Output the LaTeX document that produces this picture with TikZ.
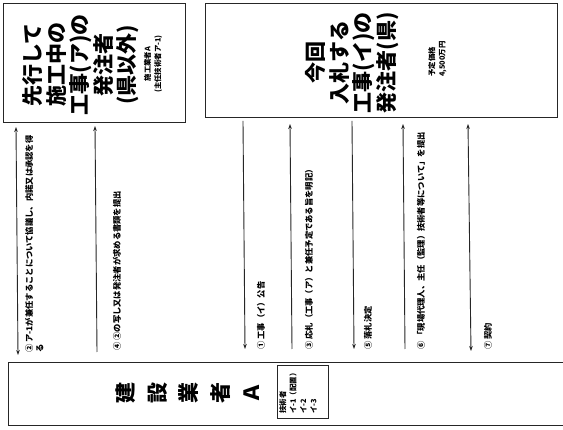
\documentclass[tikz,border=0pt]{standalone}
\usepackage{fontspec}
\setmainfont{Noto Sans CJK JP}
\usetikzlibrary{arrows.meta}
\begin{document}
\begin{tikzpicture}[x=1pt,y=-1pt,
  box/.style={draw=black!85,line width=1.1pt,inner sep=0pt},
  conn/.style={draw=black!85,line width=0.9pt},
  uptip/.style={{Stealth[length=5pt,width=3.6pt]}-},
  downtip/.style={-{Stealth[length=5pt,width=3.6pt]}},
  bothtip/.style={{Stealth[length=5pt,width=3.6pt]}-{Stealth[length=5pt,width=3.6pt]}},
  lbl/.style={rotate=90,anchor=west,align=left,font=\fontsize{8.3}{10.5}\selectfont\bfseries,inner sep=0pt},
  big/.style={rotate=90,align=center,font=\fontsize{21}{23.5}\selectfont\bfseries,inner sep=0pt},
  small/.style={rotate=90,align=left,font=\fontsize{7.4}{10.3}\selectfont\bfseries,inner sep=0pt}]
\useasboundingbox (0,0) rectangle (563,430);
\clip (0,0) rectangle (563,430);
\fill[white] (0,0) rectangle (563,430);

% boxes
\node[box,anchor=north west,minimum width=182pt,minimum height=119pt] (L) at (3,3) {};
\node[box,anchor=north west,minimum width=352pt,minimum height=114pt] (R) at (205,3) {};
\node[box,anchor=north west,minimum width=570pt,minimum height=63pt] (B) at (8,362) {};

% texts in boxes
\node[big] (LT) at (81,65) {先行して\\施工中の\\工事(ア)の\\発注者\\(県以外)};
\node[small,align=center] (LS) at (153,64) {施工業者A\\(主任技術者ア-1)};
\node[big] (RT) at (352,63) {今回\\入札する\\工事(イ)の\\発注者(県)};
\node[small,anchor=north west] (RP) at (428,77) {予定価格\\4,500万円};
\node[rotate=90,align=center,font=\fontsize{21}{31.5}\selectfont\bfseries,inner sep=0pt] (BT) at (188,393) {建\\設\\業\\者\\Ａ};
\node[draw=black!85,line width=0.8pt,anchor=north west,minimum width=51pt,minimum height=53pt,inner sep=0pt] (TB) at (277,365) {};
\node[small,anchor=north west] (TT) at (279,414) {技術者\\イ-1（配置）\\イ-2\\イ-3};

% connector end points
\coordinate (a2t) at (16,127);  \coordinate (a2b) at (18,355);
\coordinate (a4t) at (95,126);  \coordinate (a4b) at (97,352);
\coordinate (a1t) at (243,121); \coordinate (a1b) at (245,349);
\coordinate (a3t) at (290,124); \coordinate (a3b) at (292,349);
\coordinate (a5t) at (352,121); \coordinate (a5b) at (354,349);
\coordinate (a6t) at (403,124); \coordinate (a6b) at (405,349);
\coordinate (a7t) at (468,124); \coordinate (a7b) at (471,351);

\draw[conn,bothtip] (a2t) -- (a2b);
\draw[conn,uptip] (a4t) -- (a4b);
\draw[conn,downtip] (a1t) -- (a1b);
\draw[conn,uptip] (a3t) -- (a3b);
\draw[conn,downtip] (a5t) -- (a5b);
\draw[conn,uptip] (a6t) -- (a6b);
\draw[conn,bothtip] (a7t) -- (a7b);

% labels
\node[lbl,anchor=north west] (l2) at (25,353) {② ア-1が兼任することについて協議し、内諾又は承認を得\\る};
\node[lbl] (l4) at (117,351) {④ ②の写し又は発注者が求める書類を提出};
\node[lbl] (l1) at (261,350) {① 工事（イ）公告};
\node[lbl] (l3) at (309,350) {③ 応札（工事（ア）と兼任予定である旨を明記）};
\node[lbl] (l5) at (368,350) {⑤ 落札決定};
\node[lbl] (l6) at (421,350) {⑥ 「現場代理人、主任（監理）技術者等について」を提出};
\node[lbl] (l7) at (488,350) {⑦ 契約};
\end{tikzpicture}
\end{document}
